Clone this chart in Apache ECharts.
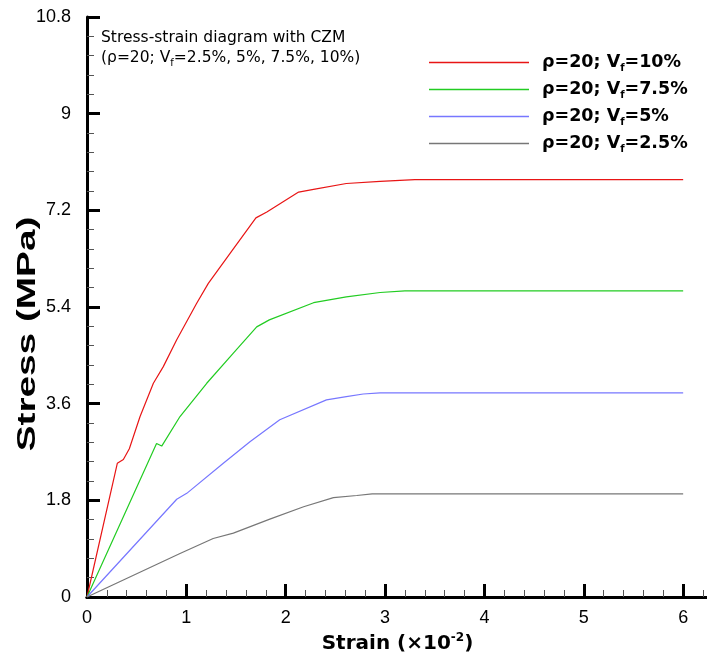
<!DOCTYPE html>
<html><head><meta charset="utf-8">
<script src="https://cdn.jsdelivr.net/npm/echarts@6/dist/echarts.min.js"></script>
<style>html,body{margin:0;padding:0;background:#fff}#c{width:707px;height:656px}</style>
</head><body><div id="c"></div>
<script>
const seriesNames = ['ρ=20; V{s|f}=10%', 'ρ=20; V{s|f}=7.5%', 'ρ=20; V{s|f}=5%', 'ρ=20; V{s|f}=2.5%'];
const seriesColors = ['#e81515', '#22cc22', '#7777ff', '#777777'];
const vf10 = [[0,0],[0.305,2.49],[0.366,2.56],[0.426,2.76],[0.534,3.36],[0.668,3.98],[0.768,4.29],[0.903,4.79],[1.104,5.47],[1.221,5.84],[1.44,6.40],[1.70,7.06],[1.81,7.17],[2.13,7.54],[2.28,7.59],[2.61,7.70],[2.95,7.74],[3.3,7.77],[6.0,7.77]];
const vf75 = [[0,0],[0.70,2.86],[0.752,2.81],[0.936,3.36],[1.205,3.98],[1.473,4.54],[1.708,5.03],[1.835,5.16],[2.28,5.48],[2.61,5.59],[2.95,5.67],[3.2,5.70],[6.0,5.70]];
const vf5 = [[0,0],[0.903,1.82],[1.004,1.93],[1.372,2.49],[1.64,2.89],[1.94,3.30],[2.41,3.67],[2.61,3.73],[2.78,3.78],[2.95,3.80],[6.0,3.80]];
const vf25 = [[0,0],[0.936,0.81],[1.27,1.09],[1.473,1.19],[1.84,1.45],[2.18,1.68],[2.48,1.85],[2.715,1.89],[2.87,1.92],[6.0,1.92]];
const allData = [vf10, vf75, vf5, vf25];
const yTicks = {min: 0, max: 10.8, interval: 1.8};
const xTicks = {min: 0, max: 6.25, interval: 1};
const yTitle = 'Stress (MPa)';

const SANS = 'Liberation Sans, Arial, sans-serif';
const WIDE = 'DejaVu Sans, sans-serif';
const chart = echarts.init(document.getElementById('c'));
const axisCommon = {
  axisLine: {show: true, onZero: false, lineStyle: {color: '#000', width: 3}},
  axisTick: {show: true, inside: true, length: 13, lineStyle: {color: '#000', width: 3}},
  minorTick: {show: true, splitNumber: 5, length: 7, lineStyle: {color: '#555', width: 1}},
  splitLine: {show: false},
  axisLabel: {color: '#000', fontSize: 18, fontFamily: SANS}
};
chart.setOption({
  animation: false,
  backgroundColor: '#fff',
  title: {
    text: 'Stress-strain diagram with CZM\n(ρ=20; V{s|f}=2.5%, 5%, 7.5%, 10%)',
    left: 96, top: 23,
    textStyle: {fontSize: 15.5, fontWeight: 'normal', color: '#000', lineHeight: 20, fontFamily: WIDE,
      rich: {s: {fontSize: 10, verticalAlign: 'bottom', padding: [8, 0, 0, 0], lineHeight: 20, fontFamily: WIDE}}}
  },
  graphic: [{
    type: 'text', x: 28, y: 334, rotation: Math.PI / 2, scaleX: 1.55, scaleY: 1,
    style: {text: yTitle, font: 'bold 25px "Liberation Sans", Arial, sans-serif', fill: '#000', align: 'center', verticalAlign: 'middle'}
  }],
  legend: {
    orient: 'vertical', left: 424, top: 47, itemWidth: 100, itemHeight: 1.5, itemGap: 6,
    icon: 'rect',
    data: seriesNames,
    textStyle: {fontSize: 17.5, fontWeight: 'bold', color: '#000', padding: [0, 0, 0, 8], fontFamily: WIDE, lineHeight: 21,
      rich: {s: {fontSize: 10, fontWeight: 'bold', verticalAlign: 'bottom', padding: [10, 0, 0, 0], fontFamily: WIDE}}}
  },
  grid: {left: 87, top: 17, width: 621, height: 580, containLabel: false, outerBoundsMode: 'none'},
  xAxis: [
    Object.assign({}, axisCommon, {
      type: 'value', min: xTicks.min, max: xTicks.max, interval: xTicks.interval,
      axisLabel: Object.assign({}, axisCommon.axisLabel, {margin: 12, showMaxLabel: false}),
      name: 'Strain (×10{sup|-2})', nameLocation: 'middle', nameGap: 26,
      nameTextStyle: {fontSize: 20, fontWeight: 'bold', color: '#000', fontFamily: WIDE,
        rich: {sup: {fontSize: 12, fontWeight: 'bold', verticalAlign: 'top', padding: [0, 0, 12, 0], fontFamily: WIDE}}}
    }),
    {type: 'value', position: 'top', min: xTicks.min, max: xTicks.max, axisLine: {show: true, lineStyle: {color: '#000', width: 3}},
     axisTick: {show: false}, axisLabel: {show: false}, splitLine: {show: false}}
  ],
  yAxis: Object.assign({}, axisCommon, {
    type: 'value', min: yTicks.min, max: yTicks.max, interval: yTicks.interval,
    axisLabel: Object.assign({}, axisCommon.axisLabel, {margin: 16, formatter: v => String(Math.round(v * 10) / 10)})
  }),
  series: allData.map((d, i) => ({
    name: seriesNames[i], type: 'line', data: d, xAxisIndex: 0, showSymbol: false, symbol: 'none',
    lineStyle: {color: seriesColors[i], width: 1.2}, itemStyle: {color: seriesColors[i]}
  }))
});
</script></body></html>
